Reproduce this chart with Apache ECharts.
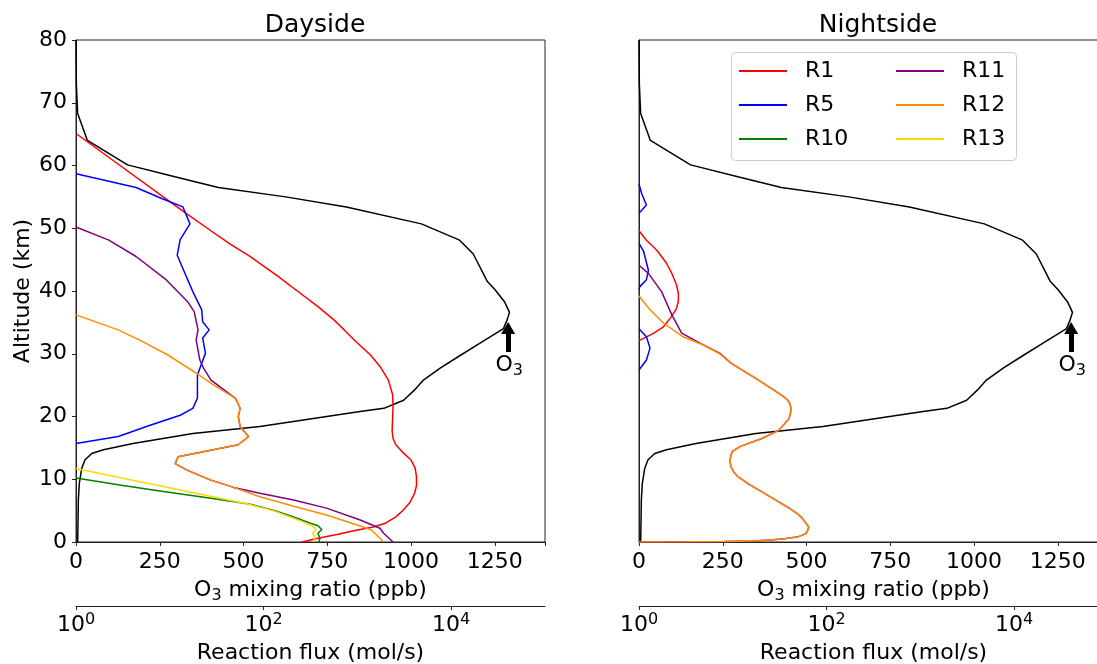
<!DOCTYPE html>
<html><head><meta charset="utf-8">
<script src="https://cdn.jsdelivr.net/npm/echarts@6/dist/echarts.min.js"></script>
<style>html,body{margin:0;padding:0;background:#fff}#c{width:1097px;height:664px}</style>
</head><body><div id="c"></div>
<script>
// ---------- data ----------
const panelTitles = ['Dayside', 'Nightside'];
const altTicks = [0, 10, 20, 30, 40, 50, 60, 70, 80];
const mixTicks = [0, 250, 500, 750, 1000, 1250];
const fluxTicks = [1, 100, 10000];
const legendCol1 = ['R1', 'R5', 'R10'];
const legendCol2 = ['R11', 'R12', 'R13'];

// O3 mixing ratio (ppb), altitude (km) - same on both sides
const o3Mix = [[0,80],[1,73],[5,68.3],[34,64],[154,60.1],[295,58.2],[425,56.5],[626,55],[807,53.4],[1031,50.7],[1145,48.1],[1186,45.9],[1228,41.5],[1251,40.2],[1279,38.3],[1294,36.6],[1287,35.4],[1276,34],[1206,31.7],[1149,29.8],[1087,27.7],[1037,25.8],[1010,24.2],[978,22.6],[919,21.3],[848,20.8],[549,18.4],[349,17.3],[170,15.7],[82,14.7],[47,14.1],[27,13.1],[17,11.7],[10,9.4],[7,6.7],[5,0]];
const o3ArrowTail = [1290, 30.28];
const o3ArrowNeck = [1290, 33.6];
const o3ArrowHead = [1290, 34.1];
const o3Label = [1293, 28.2];

// Dayside reaction fluxes (mol/s), altitude (km)
const dayR1 = [[1,65.1],[2.95,60],[8.51,55],[14.8,52.4],[25.1,50],[43.7,47.5],[71.6,45.5],[138,42.5],[229,40],[380,37.5],[562,35.4],[724,33.8],[955,32],[1380,29.8],[1778,27.8],[2138,25.8],[2371,23.5],[2399,21.6],[2371,19.5],[2344,17.8],[2399,16.5],[2570,15.5],[3090,14.2],[3715,13.1],[4121,11.8],[4266,10.4],[4266,9],[4074,7.8],[3631,6.3],[3090,5.1],[2570,4],[1995,3],[1479,2.4],[1000,1.9],[603,1.2],[380,0.6],[257,0]];
const dayR5 = [[1,58.7],[4.37,56.5],[8.32,54.7],[13.8,53.4],[16.4,50.7],[12.9,48.2],[12.0,45.7],[14.8,42.5],[17.6,39.9],[21.9,37.0],[22.4,35.1],[26.3,33.8],[22.4,32.5],[24,30.1],[19.7,26.6],[19.7,22.9],[17.6,21.3],[12.9,20.2],[6.17,18.6],[2.82,16.8],[1,15.7]];
const dayR10 = [[1,10.2],[3.16,9],[8.91,8],[26.3,7],[72.4,6],[132,5],[209,4],[316,3],[380,2.6],[417,2.0],[380,1.4],[398,0.6],[389,0]];
const dayR11 = [[1,50.2],[2.24,48.1],[4.37,45.5],[9.12,41.8],[15.5,38.3],[18.2,36.7],[20,33.8],[19.1,32.2],[20.9,29],[22.9,27.7],[27.5,25.8],[50.1,22.9],[56.2,21.3],[53.7,20],[56.2,18.4],[69.2,16.8],[53.7,15.5],[12.3,13.6],[11.4,12.5],[15.1,11.5],[26.9,9.9],[47.9,8.7],[91.2,7.76],[209,6.7],[468,5.4],[1072,3.5],[1738,2.2],[1905,1.4],[2399,0]];
const dayR12 = [[1,36.2],[2.82,33.8],[4.73,32.2],[9.55,29.8],[19.1,26.9],[29.5,25],[50.1,22.9],[56.2,21.3],[53.7,20],[56.2,18.4],[69.2,16.8],[53.7,15.5],[12.3,13.6],[11.4,12.5],[15.1,11.5],[26.9,9.9],[47.9,8.7],[91.2,7.2],[209,5.7],[468,4.3],[1072,2.55],[1413,1.9],[1905,0]];
const dayR13 = [[1,11.7],[3.55,10],[7.59,9],[15.8,8],[33.1,7],[69.2,6],[126,5],[191,4],[282,3],[331,2.6],[363,2.0],[331,1.4],[355,0.6],[339,0]];

// Nightside reaction fluxes (mol/s), altitude (km)
const nightR1 = [[1,49.6],[1.2,48.1],[1.55,46.5],[1.95,44.5],[2.24,42.8],[2.51,41],[2.63,39.6],[2.63,38.4],[2.51,37.2],[2.19,35.8],[1.82,34.3],[1.41,33.2],[1,32.1]];
const nightR5 = [[1,57],[1.07,55.5],[1.2,53.7],[1,52.4],['-','-'],[1,47.6],[1.12,46.3],[1.26,43.3],[1.2,41.8],[1.02,40.7],[1,40.2],['-','-'],[1,34],[1.2,32.7],[1.31,30.9],[1.2,29],[1,27.4]];
const nightR10 = [];
const nightR11 = [[1,44.1],[1.26,42.8],[1.74,39.9],[2.24,36.2],[2.85,33.3],[4.47,31.7],[7.24,30.1],[9.55,28.5],[18.8,25.8],[28.8,24.0],[33.9,23.3],[38.5,22.6],[40.7,22],[41.7,21.3],[41.2,20.5],[39.8,19.7],[35.5,18.8],[30.9,17.8],[20.4,16.5],[11.9,15.2],[10,14.5],[9.55,13.9],[9.33,12.9],[9.55,12.0],[10.2,11.2],[11.35,10.4],[14.5,9.3],[18.8,8.3],[30.9,6.4],[38.9,5.5],[47.9,4.6],[55,3.8],[60.3,3.0],[64.6,2.4],[63.1,1.9],[60,1.3],[50,0.85],[35.5,0.5],[25,0.3],[16.6,0.16],[8,0.08],[3.2,0.03],[1,0]];
const nightR12 = [[1,39.2],[1.31,37],[1.82,34.9],[2.95,32.7],[4.84,31.4],[7.24,30.0],[9.55,28.5],[18.8,25.8],[28.8,24.0],[33.9,23.3],[38.5,22.6],[40.7,22],[41.7,21.3],[41.2,20.5],[39.8,19.7],[35.5,18.8],[30.9,17.8],[20.4,16.5],[11.9,15.2],[10,14.5],[9.55,13.9],[9.33,12.9],[9.55,12.0],[10.2,11.2],[11.35,10.4],[14.5,9.3],[18.8,8.3],[30.9,6.4],[38.9,5.5],[47.9,4.6],[55,3.8],[60.3,3.0],[64.6,2.4],[63.1,1.9],[60,1.3],[50,0.85],[35.5,0.5],[25,0.3],[16.6,0.16],[8,0.08],[3.2,0.03],[1,0]];
const nightR13 = [];

// ---------- styling ----------
const FONT = 'DejaVu Sans';
const AX = '#222';
const colors = {R1:'#ff0000', R5:'#0000ff', R10:'#008000', R11:'#800080', R12:'#ff8c00', R13:'#ffd700'};
const txt = {fontFamily: FONT, fontSize: 22, color: '#000'};
const subRich = {sub: {fontFamily: FONT, fontSize: 16, color: '#000', padding: [11, 0, 0, 0]}};
const supRich = {sup: {fontFamily: FONT, fontSize: 16, color: '#000', padding: [0, 0, 10, 0]}};

const grids = [
  {left: 76, top: 40, width: 469, height: 502},
  {left: 639, top: 40, width: 469, height: 502}
].map(g => Object.assign(g, {show: true, borderColor: AX, borderWidth: 1, backgroundColor: 'transparent', containLabel: false, outerBoundsMode: 'none'}));

function mixAxis(gi) {
  return {gridIndex: gi, type: 'value', min: 0, max: 1400, interval: 250, position: 'bottom',
    name: 'O{sub|3} mixing ratio (ppb)', nameLocation: 'middle', nameGap: 35,
    nameTextStyle: Object.assign({}, txt, {rich: subRich}),
    axisLine: {show: true, onZero: false, lineStyle: {color: AX, width: 1}},
    axisTick: {show: true, length: 4, inside: false, lineStyle: {color: AX, width: 1}},
    axisLabel: Object.assign({}, txt, {margin: 9, customValues: mixTicks, hideOverlap: false,
      formatter: v => String(v)}),
    splitLine: {show: false}};
}
function fluxAxis(gi) {
  return {gridIndex: gi, type: 'log', logBase: 10, min: 1, max: 100000, position: 'bottom', offset: 64,
    name: 'Reaction flux (mol/s)', nameLocation: 'middle', nameGap: 36, nameTextStyle: txt,
    axisLine: {show: true, onZero: false, lineStyle: {color: AX, width: 1}},
    axisTick: {show: true, length: 4, customValues: fluxTicks, lineStyle: {color: AX, width: 1}},
    axisLabel: Object.assign({}, txt, {margin: 6, customValues: fluxTicks, rich: supRich,
      formatter: v => '10{sup|' + Math.round(Math.log10(v)) + '}'}),
    minorTick: {show: false}, splitLine: {show: false}};
}
function altAxis(gi, labels) {
  return {gridIndex: gi, type: 'value', min: 0, max: 80, interval: 10,
    name: labels ? 'Altitude (km)' : '', nameLocation: 'middle', nameGap: 42, nameTextStyle: txt,
    axisLine: {show: true, onZero: false, lineStyle: {color: AX, width: 1}},
    axisTick: {show: labels, length: 4, lineStyle: {color: AX, width: 1}},
    axisLabel: Object.assign({}, txt, {show: labels, margin: 9, customValues: altTicks}),
    splitLine: {show: false}};
}

function rxn(name, data, xi, yi) {
  return {type: 'line', name, data, xAxisIndex: xi, yAxisIndex: yi, symbol: 'none', showSymbol: false,
    connectNulls: false, clip: true, animation: false, silent: true, smooth: false,
    lineStyle: {color: colors[name], width: 1.5}, itemStyle: {color: colors[name]}, z: 3};
}
function o3Series(xi, yi) {
  return {type: 'line', name: 'O3', data: o3Mix, xAxisIndex: xi, yAxisIndex: yi, symbol: 'none', showSymbol: false,
    clip: true, animation: false, silent: true, lineStyle: {color: '#000', width: 1.5}, itemStyle: {color: '#000'}, z: 2,
    markLine: {silent: true, animation: false, symbol: ['none', 'none'],
      label: {show: false}, lineStyle: {color: '#000', width: 5, type: 'solid'}, emphasis: {disabled: true},
      data: [[{coord: o3ArrowTail}, {coord: o3ArrowNeck}]]},
    markPoint: {silent: true, animation: false,
      data: [
        {coord: o3ArrowHead, symbol: 'triangle', symbolSize: [14, 12], itemStyle: {color: '#000'}, label: {show: false}},
        {coord: o3Label, symbol: 'circle', symbolSize: 1, itemStyle: {color: 'rgba(0,0,0,0)'},
         label: Object.assign({}, txt, {show: true, position: 'inside', formatter: 'O{sub|3}', rich: subRich})}
      ]}};
}

const series = [
  o3Series(0, 0),
  rxn('R1', dayR1, 1, 0), rxn('R5', dayR5, 1, 0), rxn('R10', dayR10, 1, 0),
  rxn('R11', dayR11, 1, 0), rxn('R12', dayR12, 1, 0), rxn('R13', dayR13, 1, 0),
  o3Series(2, 1),
  rxn('R1', nightR1, 3, 1), rxn('R5', nightR5, 3, 1), rxn('R10', nightR10, 3, 1),
  rxn('R11', nightR11, 3, 1), rxn('R12', nightR12, 3, 1), rxn('R13', nightR13, 3, 1)
];

function legend(names, left) {
  return {data: names, orient: 'vertical', left, top: 60, padding: 0, itemGap: 12, itemWidth: 48, itemHeight: 2,
    icon: 'rect', selectedMode: false, z: 6,
    textStyle: Object.assign({}, txt, {lineHeight: 22, padding: [0, 0, 0, 13]})};
}

const chart = echarts.init(document.getElementById('c'), null, {renderer: 'canvas'});
chart.setOption({
  animation: false,
  backgroundColor: '#fff',
  title: panelTitles.map((t, i) => ({text: t, left: i === 0 ? 310 : 873, top: 8, textAlign: 'center',
    textStyle: {fontFamily: FONT, fontSize: 25, fontWeight: 'normal', color: '#000'}})),
  grid: grids,
  xAxis: [mixAxis(0), fluxAxis(0), mixAxis(1), fluxAxis(1)],
  yAxis: [altAxis(0, true), altAxis(1, false)],
  legend: [legend(legendCol1, 739), legend(legendCol2, 896)],
  graphic: [{type: 'rect', left: 731, top: 52, z: 5, silent: true,
    shape: {width: 285, height: 108, r: 4},
    style: {fill: 'rgba(255,255,255,0.8)', stroke: '#cccccc', lineWidth: 1}}],
  series
});
</script>
</body></html>
